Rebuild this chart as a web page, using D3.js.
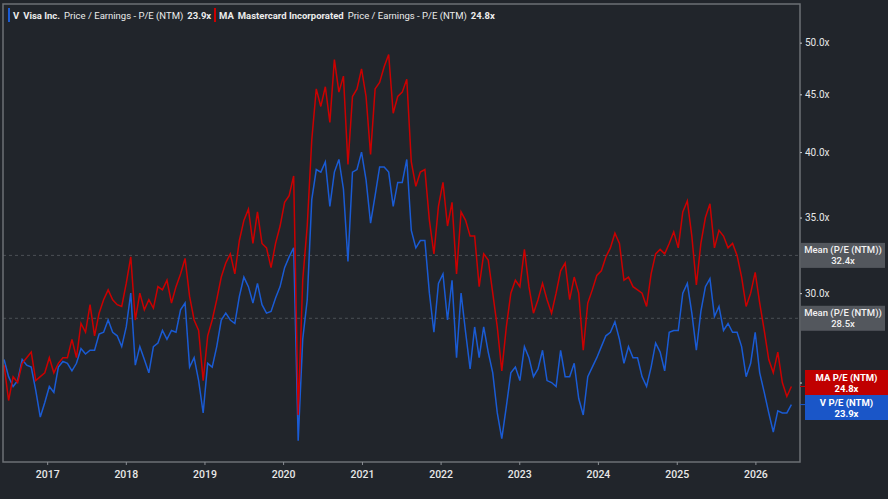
<!DOCTYPE html>
<html>
<head>
<meta charset="utf-8">
<script src="https://cdn.jsdelivr.net/npm/d3@7"></script>
<style>
  html, body { margin: 0; padding: 0; background: #21252b; }
  svg { display: block; font-family: Roboto, "Noto Sans", sans-serif; }
</style>
</head>
<body>
<div id="chart"></div>
<script>
// P/E (NTM) readings, one every 3 weeks from mid June 2016
const startDate = new Date(2016, 5, 15);
const stepDays = 21;

const maPE = [
  25.9, 24.1, 25.3, 25.0, 26.0, 26.3, 26.6, 25.1, 25.3, 25.5,
  26.3, 25.5, 26.0, 26.3, 26.3, 27.3, 26.3, 28.2, 27.7, 29.3,
  27.5, 28.8, 29.6, 30.2, 29.6, 29.3, 29.2, 30.6, 32.3, 28.4,
  30.0, 29.0, 29.6, 29.1, 30.4, 30.2, 30.8, 29.4, 30.4, 31.2,
  32.2, 29.8, 28.4, 27.8, 25.1, 27.5, 28.4, 29.6, 31.0, 31.9,
  32.5, 31.2, 33.4, 34.8, 35.6, 33.2, 35.4, 33.2, 32.9, 31.6,
  33.2, 34.4, 36.1, 36.6, 38.1, 23.4, 30.8, 34.4, 41.0, 45.5,
  43.9, 45.7, 42.5, 48.3, 45.2, 46.7, 39.0, 44.8, 45.5, 47.4,
  44.8, 39.8, 45.5, 46.1, 47.6, 48.8, 43.3, 44.8, 45.2, 46.4,
  39.2, 37.3, 38.4, 38.6, 34.8, 32.5, 35.8, 37.6, 34.4, 36.1,
  31.2, 35.4, 34.8, 33.7, 33.7, 30.4, 32.5, 32.1, 30.0, 28.0,
  25.6, 28.0, 30.0, 30.8, 30.4, 32.8, 30.4, 28.8, 29.6, 30.6,
  29.6, 28.8, 30.0, 31.4, 31.9, 29.6, 31.0, 30.0, 26.7, 29.4,
  30.2, 31.1, 31.4, 32.3, 32.9, 33.9, 33.2, 30.8, 31.0, 30.4,
  30.2, 30.0, 29.2, 31.2, 32.5, 32.8, 32.5, 33.2, 34.0, 32.9,
  35.4, 36.2, 33.7, 30.5, 33.2, 35.0, 36.0, 32.9, 34.1, 33.7,
  32.9, 33.2, 32.4, 31.0, 29.2, 30.0, 31.3, 29.4, 27.8, 26.2,
  25.5, 26.6, 25.0, 24.3, 24.8
];

const vPE = [
  26.2, 25.3, 24.8, 25.1, 26.2, 25.9, 25.8, 24.6, 23.3, 24.0,
  24.8, 24.5, 25.8, 26.1, 26.0, 25.6, 26.0, 26.8, 26.5, 26.7,
  26.7, 27.6, 27.7, 28.4, 27.7, 27.5, 26.9, 28.0, 30.0, 25.9,
  26.9, 26.2, 25.5, 26.9, 27.1, 27.8, 27.3, 27.8, 27.7, 29.0,
  29.4, 25.8, 26.3, 25.1, 23.5, 26.0, 25.8, 26.9, 28.4, 28.8,
  28.4, 28.2, 29.8, 31.0, 30.4, 29.4, 30.6, 29.3, 28.8, 28.9,
  29.7, 30.4, 31.6, 32.3, 32.9, 22.2, 27.3, 29.6, 36.3, 38.6,
  38.4, 39.2, 35.8, 38.4, 39.4, 37.1, 32.0, 38.4, 38.6, 40.0,
  37.8, 34.6, 36.6, 38.8, 38.8, 38.4, 35.8, 37.6, 37.6, 39.4,
  34.1, 32.9, 33.4, 33.4, 30.0, 27.7, 30.6, 31.2, 28.4, 30.8,
  26.3, 30.0, 27.7, 25.7, 28.0, 26.3, 28.0, 26.6, 25.5, 23.5,
  22.3, 23.8, 25.5, 25.8, 25.1, 26.9, 26.3, 25.3, 25.7, 26.7,
  25.1, 25.0, 24.8, 26.7, 25.3, 25.3, 26.0, 24.2, 23.4, 25.3,
  25.8, 26.3, 26.9, 27.5, 27.7, 28.3, 27.3, 26.0, 26.9, 26.3,
  26.3, 25.3, 24.8, 25.8, 27.1, 26.6, 25.6, 27.7, 27.8, 27.8,
  30.0, 30.6, 28.8, 26.7, 28.9, 30.4, 30.9, 28.6, 29.2, 27.8,
  28.2, 27.7, 27.7, 26.9, 25.3, 26.0, 27.7, 25.5, 24.5, 23.5,
  22.6, 23.6, 23.5, 23.5, 23.9
];

const yTicks = [25, 30, 35, 40, 45, 50];
const meanValues = [32.4, 28.5];
const meanLabel = "Mean (P/E (NTM))";
const lastLabels = ["MA P/E (NTM)", "V P/E (NTM)"];

const W = 888, H = 499;
const plotLeft = 3, plotRight = 800, plotTop = 4, plotBottom = 462;
const blue = "#1a5bd4", red = "#cc0000";

const dates = maPE.map((d, i) => d3.timeDay.offset(startDate, i * stepDays));

const svg = d3.select("#chart").append("svg").attr("width", W).attr("height", H);
svg.append("rect").attr("width", W).attr("height", H).attr("fill", "#21252b");

const x = d3.scaleTime()
  .domain([new Date(2016, 5, 10), new Date(2026, 6, 27)])
  .range([plotLeft, plotRight]);
const y = d3.scaleLog()
  .domain([21.26, 54.1])
  .range([plotBottom, plotTop]);

// mean lines
svg.append("g").selectAll("line").data(meanValues).join("line")
  .attr("x1", plotLeft).attr("x2", plotRight)
  .attr("y1", d => y(d)).attr("y2", d => y(d))
  .attr("stroke", "#4b4f56").attr("stroke-dasharray", "3,3");

const line = d3.line().x((d, i) => x(dates[i])).y(d => y(d));

svg.append("path").datum(vPE).attr("d", line)
  .attr("fill", "none").attr("stroke", blue).attr("stroke-width", 1.5);
svg.append("path").datum(maPE).attr("d", line)
  .attr("fill", "none").attr("stroke", red).attr("stroke-width", 1.5);

// frame
svg.append("rect").attr("x", plotLeft).attr("y", plotTop)
  .attr("width", plotRight - plotLeft).attr("height", plotBottom - plotTop)
  .attr("fill", "none").attr("stroke", "#6c7076").attr("stroke-width", 1.5);

// x axis
const xAxis = svg.append("g").attr("transform", `translate(0,${plotBottom})`)
  .call(d3.axisBottom(x).ticks(d3.timeYear.every(1)).tickFormat(d3.timeFormat("%Y")).tickSize(3).tickPadding(6));
xAxis.select(".domain").remove();
xAxis.selectAll("line").attr("stroke", "#8a8e94");
xAxis.selectAll("text").attr("fill", "#e8e8e8").attr("font-size", 10.5)
  .attr("font-weight", 500).attr("font-family", "Roboto, sans-serif");

// y axis on right
const yAxis = svg.append("g").attr("transform", `translate(${plotRight},0)`)
  .call(d3.axisRight(y).tickValues(yTicks).tickFormat(d => d.toFixed(1) + "x").tickSize(2).tickPadding(3));
yAxis.select(".domain").remove();
yAxis.selectAll("line").attr("stroke", "#c8c8c8");
yAxis.selectAll("text").attr("fill", "#e8e8e8").attr("font-size", 10)
  .attr("font-family", "Roboto, sans-serif");

// mean labels
const mg = svg.append("g").selectAll("g").data(meanValues).join("g")
  .attr("transform", d => `translate(801,${y(d)})`);
mg.append("rect").attr("x", 0).attr("y", -12.5).attr("width", 84).attr("height", 25)
  .attr("fill", "#53575d");
mg.append("text").attr("x", 42).attr("y", -2).attr("text-anchor", "middle")
  .attr("fill", "#f2f2f2").attr("font-size", 9.5).attr("font-weight", 500).text(meanLabel);
mg.append("text").attr("x", 42).attr("y", 9).attr("text-anchor", "middle")
  .attr("fill", "#f2f2f2").attr("font-size", 9.5).attr("font-weight", 500).text(d => d.toFixed(1) + "x");

// last value labels (stacked)
const lastVals = [maPE[maPE.length - 1], vPE[vPE.length - 1]];
const lastColors = [red, blue];
const boxTops = [370, 395];
lastVals.forEach((v, k) => {
  svg.append("line").attr("x1", plotRight).attr("x2", 805)
    .attr("y1", y(v)).attr("y2", y(v)).attr("stroke", lastColors[k]).attr("stroke-width", 1);
  const g = svg.append("g").attr("transform", `translate(805,${boxTops[k]})`);
  g.append("rect").attr("width", 83).attr("height", 25).attr("fill", k === 0 ? "#c00000" : "#1a56c8");
  g.append("text").attr("x", 41.5).attr("y", 10.5).attr("text-anchor", "middle")
    .attr("fill", "#fff").attr("font-size", 9.5).attr("font-weight", 700).text(lastLabels[k]);
  g.append("text").attr("x", 41.5).attr("y", 21.5).attr("text-anchor", "middle")
    .attr("fill", "#fff").attr("font-size", 9.5).attr("font-weight", 700).text(v.toFixed(1) + "x");
});

// legend
const legendItems = [
  { tick: "V", name: "Visa Inc.", value: vPE[vPE.length - 1], color: blue, x: 8 },
  { tick: "MA", name: "Mastercard Incorporated", value: maPE[maPE.length - 1], color: red, x: 214 }
];
legendItems.forEach(it => {
  svg.append("rect").attr("x", it.x).attr("y", 8).attr("width", 2).attr("height", 14).attr("fill", it.color);
  const t = svg.append("text").attr("x", it.x + 5).attr("y", 19)
    .attr("fill", "#ececec").attr("font-size", 9.5);
  t.append("tspan").attr("font-weight", 700).text(it.tick);
  t.append("tspan").attr("dx", 4).attr("font-weight", 700).text(it.name);
  t.append("tspan").attr("dx", 4).text("Price / Earnings - P/E (NTM)");
  t.append("tspan").attr("dx", 4).attr("font-weight", 700).text(it.value.toFixed(1) + "x");
});
</script>
</body>
</html>
